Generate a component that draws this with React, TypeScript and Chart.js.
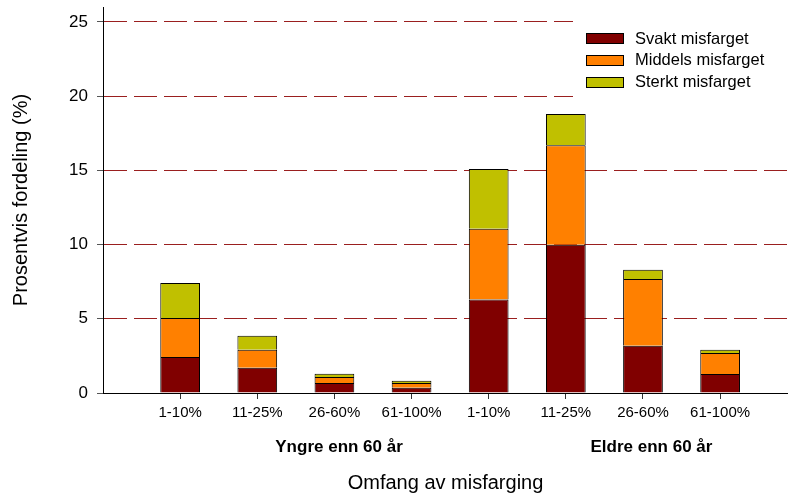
import React, { useEffect, useRef } from 'react';
import { Chart, registerables } from 'chart.js';

Chart.register(...registerables);

const FONT = "Arial, 'Liberation Sans', sans-serif";

const categories = ['1-10%', '11-25%', '26-60%', '61-100%', '1-10%', '11-25%', '26-60%', '61-100%'];
const groupLabels = ['Yngre enn 60 år', 'Eldre enn 60 år'];
const svakt = [2.43, 1.70, 0.67, 0.36, 6.29, 9.99, 3.19, 1.28];
const middels = [2.62, 1.22, 0.41, 0.31, 4.78, 6.69, 4.49, 1.42];
const sterkt = [2.36, 0.94, 0.22, 0.16, 4.02, 2.12, 0.63, 0.22];
const seriesNames = ['Svakt misfarget', 'Middels misfarget', 'Sterkt misfarget'];
const yTicks = [0, 5, 10, 15, 20, 25];

const colors = ['#800000', '#FF8000', '#C0C000'];
const groupCenters = [3.06, 7.11];

const overlayPlugin = {
  id: 'overlay',
  afterDraw(chart: any) {
    const ctx = chart.ctx;
    ctx.save();
    // legend
    ctx.fillStyle = '#fff';
    ctx.fillRect(573, 14, 215, 88);
    chart.data.datasets.forEach((ds: any, i: number) => {
      const y = 38.7 + i * 21.7;
      ctx.fillStyle = ds.backgroundColor;
      ctx.fillRect(586, Math.round(y - 5.5), 38, 11);
      ctx.strokeStyle = '#000';
      ctx.lineWidth = 1;
      ctx.strokeRect(586.5, Math.round(y - 5.5) + 0.5, 37, 10);
      ctx.fillStyle = '#000';
      ctx.font = `16.5px ${FONT}`;
      ctx.textBaseline = 'middle';
      ctx.textAlign = 'left';
      ctx.fillText(ds.label, 635, y + 0.5);
    });
    // group labels
    const xs = chart.scales.x;
    ctx.font = `bold 17px ${FONT}`;
    ctx.textAlign = 'center';
    ctx.textBaseline = 'middle';
    ctx.fillStyle = '#000';
    groupLabels.forEach((g, i) => {
      ctx.fillText(g, xs.getPixelForValue(groupCenters[i]), 447);
    });
    ctx.restore();
  },
};

export default function App() {
  const ref = useRef<HTMLCanvasElement>(null);
  useEffect(() => {
    const seriesVals = [svakt, middels, sterkt];
    const chart = new Chart(ref.current as HTMLCanvasElement, {
      type: 'bar',
      data: {
        datasets: seriesVals.map((vals, si) => ({
          label: seriesNames[si],
          data: vals.map((v, i) => ({ x: i + 1, y: v })),
          backgroundColor: colors[si],
          borderColor: '#000',
          borderWidth: 1,
          barPercentage: 0.515,
          categoryPercentage: 1,
        })),
      },
      options: {
        responsive: false,
        animation: false,
        layout: { padding: { top: 7, left: 0, right: 0, bottom: 0 } },
        plugins: { legend: { display: false }, tooltip: { enabled: false } },
        scales: {
          x: {
            type: 'linear',
            min: 0,
            max: 8.88,
            stacked: true,
            offset: false,
            afterBuildTicks: (s: any) => {
              s.ticks = categories.map((_, i) => ({ value: i + 1 }));
            },
            afterFit: (s: any) => {
              s.height = 107;
              s.paddingLeft = 0;
              s.paddingRight = 0;
            },
            ticks: {
              callback: (_v: any, i: number) => categories[i],
              font: { family: FONT, size: 15 },
              color: '#000',
              padding: 5,
              maxRotation: 0,
              autoSkip: false,
            },
            grid: { drawOnChartArea: false, drawTicks: true, tickLength: 6, tickColor: '#333', offset: false },
            border: { display: true, color: '#000', width: 1 },
            title: {
              display: true,
              text: 'Omfang av misfarging',
              font: { family: FONT, size: 20 },
              color: '#000',
              padding: { top: 44, bottom: 5 },
            },
          },
          y: {
            min: 0,
            max: 26,
            stacked: true,
            afterBuildTicks: (s: any) => {
              s.ticks = yTicks.map((v) => ({ value: v }));
            },
            afterFit: (s: any) => {
              s.width = 103;
              s.paddingTop = 0;
              s.paddingBottom = 0;
            },
            ticks: { font: { family: FONT, size: 17 }, color: '#000', padding: 9 },
            grid: {
              color: (c: any) => (c.tick && c.tick.value === 0 ? 'rgba(0,0,0,0)' : '#9a1f1f'),
              tickColor: '#555',
              tickLength: 6,
              lineWidth: 1,
            },
            border: { display: true, color: '#000', width: 1, dash: [23, 7] },
            title: {
              display: true,
              text: 'Prosentvis fordeling (%)',
              font: { family: FONT, size: 20 },
              color: '#000',
              padding: { top: 9, bottom: 0 },
            },
          },
        },
      } as any,
      plugins: [overlayPlugin],
    });
    return () => chart.destroy();
  }, []);
  return (
    <div style={{ position: 'fixed', left: 0, top: 0, width: 788, height: 500, background: '#fff' }}>
      <canvas ref={ref} width={788} height={500} style={{ width: 788, height: 500 }} />
    </div>
  );
}
